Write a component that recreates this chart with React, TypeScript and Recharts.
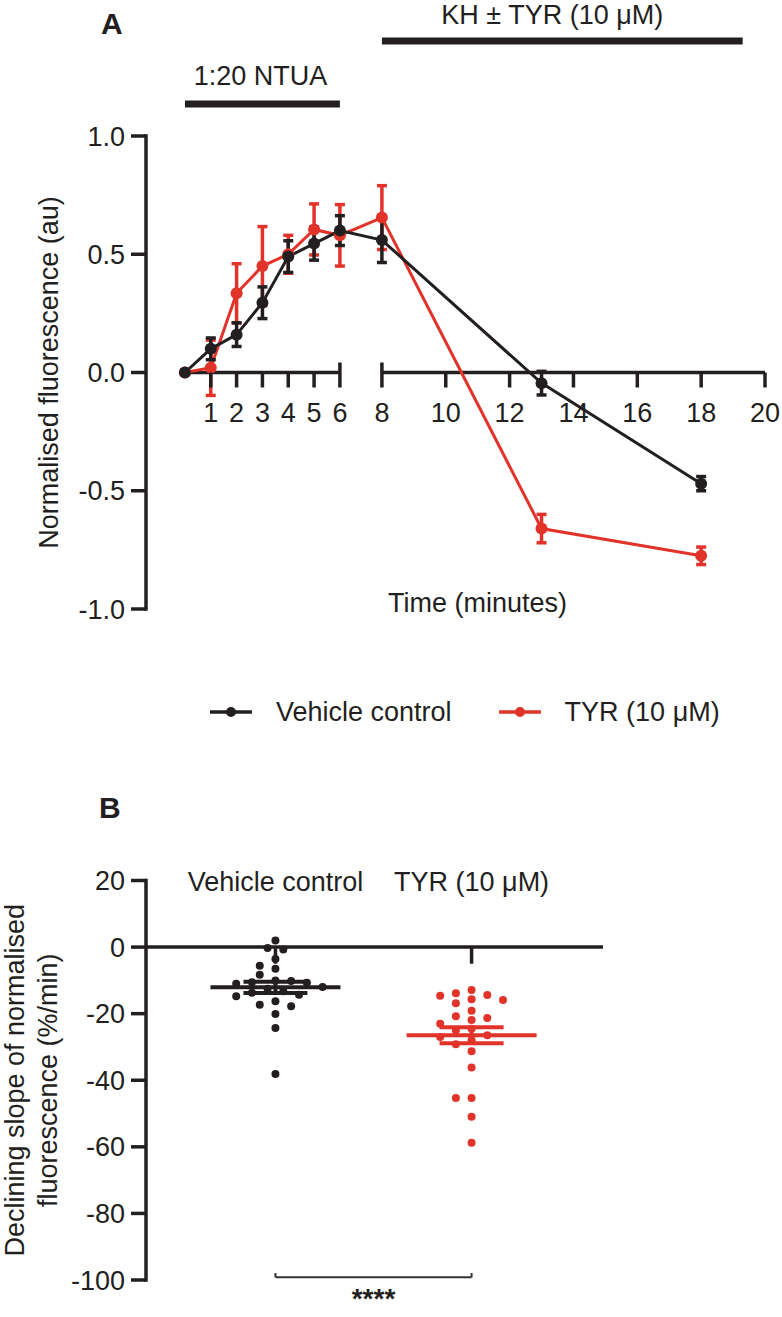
import type { JSX } from "react";

import { ErrorBar, Label, Legend, Line, LineChart, ReferenceLine, Scatter, ScatterChart, XAxis, YAxis } from "recharts";

const ink = "#231f20";
const red = "#e2332a";
const font = '"Liberation Sans", Arial, Helvetica, sans-serif';

// panel A: normalised fluorescence over time
const times = [0, 1, 2, 3, 4, 5, 6, 8, 13, 18];
const vehicleMean = [0, 0.1, 0.16, 0.295, 0.49, 0.545, 0.6, 0.56, -0.045, -0.47];
const vehicleSem = [0, 0.046, 0.05, 0.067, 0.067, 0.07, 0.063, 0.095, 0.05, 0.03];
const tyrMean = [0, 0.02, 0.335, 0.45, 0.5, 0.605, 0.58, 0.655, -0.66, -0.775];
const tyrSem = [0, 0.117, 0.125, 0.167, 0.08, 0.108, 0.13, 0.135, 0.06, 0.037];
const timeTicks = [1, 2, 3, 4, 5, 6, 8, 10, 12, 14, 16, 18, 20];
const fluorTicks = [-1, -0.5, 0, 0.5, 1];
const phaseLabels = ["1:20 NTUA", "KH ± TYR (10 μM)"];
const phaseFrom = [0, 8];
const phaseTo = [6, 19.3];

// panel B: declining slope per cell
const groups = ["Vehicle control", "TYR (10 μM)"];
const vehicleSlopes = [
	2.0, -0.3, -0.7, -3.6, -5.6, -6.5, -8.3, -10.0, -10.2, -10.6, -10.7, -11.0, -12.0, -12.5, -13.3, -13.7, -14.3, -14.8,
	-16.3, -17.3, -17.8, -20.1, -24.3, -38.1,
];
const tyrSlopes = [
	-12.9, -13.9, -14.4, -14.6, -15.7, -15.9, -16.9, -19.1, -20.8, -21.3, -21.9, -23.0, -24.5, -25.0, -26.5, -27.0, -28.0,
	-29.2, -31.3, -36.2, -45.3, -45.3, -51.0, -58.8,
];
const slopeMean = [-12.1, -26.5];
const slopeSem = [1.7, 2.4];
const slopeTicks = [-100, -80, -60, -40, -20, 0, 20];

// broken time axis: 0-6 is drawn narrower, then a gap before 8
const breakFrom = 6;
const breakTo = 8;
const firstSegRatio = 0.809;
const gapWidth = 1.316;
const toAxis = (t: number) => (t <= breakFrom ? t * firstSegRatio : breakFrom * firstSegRatio + gapWidth + (t - breakTo));
const fromAxis = (u: number) =>
	u <= breakFrom * firstSegRatio + 1e-9 ? u / firstSegRatio : u - breakFrom * firstSegRatio - gapWidth + breakTo;
const axisMin = -1.22;
const axisMax = toAxis(20);

// layout of panel A
const chartA = { width: 782, height: 760, top: 136, left: 146, right: 17, plotBottom: 609 };
const zeroY = chartA.top + (chartA.plotBottom - chartA.top) / 2;
const phaseLevel = [1.135, 1.402];
const phaseShift = [-2, -10];
const phaseOffset = [19, 17];

// layout of panel B
const chartB = { width: 782, height: 557, top: 80.5, axisHeight: 40, left: 146, right: 179, bottom: 37 };
const groupDomain: [number, number] = [0.34, 2.67];
const slopeDomain: [number, number] = [-100, 20];
const bracketY = -99.2;

const rowsA = times.map((t, i) => ({
	pos: toAxis(t),
	tyr: tyrMean[i],
	tyrErr: tyrSem[i],
	vehicle: vehicleMean[i],
	vehicleErr: vehicleSem[i],
}));

function swarmOffsets(values: number[], pxY: number, pxX: number): number[] {
	const colStep = 7.85;
	const colGap = 15.7;
	const rowGap = 8.5;
	const order = values.map((_, i) => i).sort((a, b) => values[b] - values[a]);
	const placed: { dx: number; py: number }[] = [];
	const out = values.map(() => 0);
	for (const i of order) {
		const py = values[i] * pxY;
		for (let k = 0; k < 80; k++) {
			const dx = Math.ceil(k / 2) * colStep * (k % 2 ? -1 : 1);
			const free = placed.every((p) => ((p.dx - dx) / colGap) ** 2 + ((p.py - py) / rowGap) ** 2 >= 1);
			if (free) {
				placed.push({ dx, py });
				out[i] = dx / pxX;
				break;
			}
		}
	}
	return out;
}

const plotWB = chartB.width - chartB.left - chartB.right;
const plotHB = chartB.height - chartB.top - chartB.axisHeight - chartB.bottom;
const pxX = plotWB / (groupDomain[1] - groupDomain[0]);
const pxY = plotHB / (slopeDomain[1] - slopeDomain[0]);

const vehicleOff = swarmOffsets(vehicleSlopes, pxY, pxX);
const tyrOff = swarmOffsets(tyrSlopes, pxY, pxX);
const vehiclePts = vehicleSlopes.map((v, i) => ({ x: 1 + vehicleOff[i], y: v }));
const tyrPts = tyrSlopes.map((v, i) => ({ x: 2 + tyrOff[i], y: v }));
const vehicleMeanPt = [{ x: 1, y: slopeMean[0], sem: slopeSem[0] }];
const tyrMeanPt = [{ x: 2, y: slopeMean[1], sem: slopeSem[1] }];

function TimeTick(props: any) {
	const { x, payload } = props;
	const t = Math.round(fromAxis(payload.value));
	const edge = t === breakFrom || t === breakTo;
	return (
		<g>
			<line stroke={ink} strokeWidth={3.5} x1={x} x2={x} y1={edge ? zeroY - 10 : zeroY} y2={zeroY + 15} />
			<text fill={ink} fontSize={27} textAnchor="middle" x={x} y={zeroY + 49}>
				{t}
			</text>
		</g>
	);
}

function GroupTick(props: any) {
	const { x, y, payload } = props;
	return (
		<text fill={ink} fontSize={27} textAnchor="middle" x={x} y={y + 10}>
			{groups[Math.round(payload.value) - 1]}
		</text>
	);
}

function LegendRow(): JSX.Element {
	const item = (label: string, color: string, gap: number) => (
		<div style={{ alignItems: "center", display: "flex", marginRight: gap }}>
			<svg height={14} width={42}>
				<line stroke={color} strokeWidth={3.5} x1={0} x2={42} y1={7} y2={7} />
				<circle cx={21} cy={7} fill={color} r={5} />
			</svg>
			<span style={{ color: ink, fontSize: 27, lineHeight: "28px", marginLeft: 24 }}>{label}</span>
		</div>
	);
	return (
		<div style={{ display: "flex", height: 28 }}>
			{item("Vehicle control", ink, 47)}
			{item("TYR (10 μM)", red, 0)}
		</div>
	);
}

const dotShape = (color: string) => (p: any) => <circle cx={p.cx} cy={p.cy} fill={color} r={4} />;
const meanShape = (color: string) => (p: any) => (
	<line stroke={color} strokeWidth={4} x1={p.cx - 65} x2={p.cx + 65} y1={p.cy} y2={p.cy} />
);

function FluorescenceChart(): JSX.Element {
	return (
		<LineChart
			data={rowsA}
			height={chartA.height}
			margin={{ bottom: 0, left: 0, right: chartA.right, top: chartA.top }}
			width={chartA.width}
		>
			<XAxis
				axisLine={false}
				dataKey="pos"
				domain={[axisMin, axisMax]}
				height={chartA.height - chartA.plotBottom}
				interval={0}
				label={{ dx: 22, dy: -21, fill: ink, fontSize: 27, position: "insideTop", value: "Time (minutes)" }}
				tick={TimeTick}
				tickLine={false}
				tickMargin={0}
				tickSize={0}
				ticks={timeTicks.map(toAxis)}
				type="number"
			/>
			<YAxis
				axisLine={{ stroke: ink, strokeLinecap: "square", strokeWidth: 3.5 }}
				domain={[-1, 1]}
				interval={0}
				label={{ angle: -90, dx: -25, fill: ink, fontSize: 27, position: "center", value: "Normalised fluorescence (au)" }}
				tick={{ fill: ink, fontSize: 27 }}
				tickFormatter={(v: number) => v.toFixed(1)}
				tickLine={{ stroke: ink, strokeWidth: 3.5 }}
				tickMargin={6}
				tickSize={15}
				ticks={fluorTicks}
				type="number"
				width={chartA.left}
			/>
			<ReferenceLine
				ifOverflow="visible"
				segment={[
					{ x: toAxis(0), y: 0 },
					{ x: toAxis(breakFrom), y: 0 },
				]}
				stroke={ink}
				strokeWidth={3.5}
			/>
			<ReferenceLine
				ifOverflow="visible"
				segment={[
					{ x: toAxis(breakTo), y: 0 },
					{ x: axisMax, y: 0 },
				]}
				stroke={ink}
				strokeWidth={3.5}
			/>
			{phaseLabels.map((label, i) => (
				<ReferenceLine
					ifOverflow="visible"
					key={label}
					label={{ dx: phaseShift[i], fill: ink, fontSize: 27, offset: phaseOffset[i], position: "top", value: label }}
					segment={[
						{ x: toAxis(phaseFrom[i]), y: phaseLevel[i] },
						{ x: toAxis(phaseTo[i]), y: phaseLevel[i] },
					]}
					stroke={ink}
					strokeWidth={7}
				/>
			))}
			<Line
				activeDot={false}
				dataKey="tyr"
				dot={{ fill: red, r: 6, stroke: red, strokeWidth: 0 }}
				isAnimationActive={false}
				stroke={red}
				strokeWidth={3}
				type="linear"
			>
				<ErrorBar dataKey="tyrErr" direction="y" isAnimationActive={false} stroke={red} strokeWidth={3.5} width={5} />
			</Line>
			<Line
				activeDot={false}
				dataKey="vehicle"
				dot={{ fill: ink, r: 6, stroke: ink, strokeWidth: 0 }}
				isAnimationActive={false}
				stroke={ink}
				strokeWidth={3}
				type="linear"
			>
				<ErrorBar dataKey="vehicleErr" direction="y" isAnimationActive={false} stroke={ink} strokeWidth={3.5} width={5} />
			</Line>
			<Legend
				align="center"
				content={() => <LegendRow />}
				layout="horizontal"
				verticalAlign="middle"
				wrapperStyle={{ left: 210, top: 698, width: 560 }}
			/>
		</LineChart>
	);
}

function SlopeChart(): JSX.Element {
	return (
		<ScatterChart
			height={chartB.height}
			margin={{ bottom: chartB.bottom, left: 0, right: chartB.right, top: chartB.top }}
			width={chartB.width}
		>
			<XAxis
				axisLine={false}
				dataKey="x"
				domain={groupDomain}
				height={chartB.axisHeight}
				interval={0}
				orientation="top"
				tick={GroupTick}
				tickLine={false}
				tickMargin={0}
				tickSize={0}
				ticks={[1, 2]}
				type="number"
			/>
			<YAxis
				axisLine={{ stroke: ink, strokeLinecap: "square", strokeWidth: 3.5 }}
				dataKey="y"
				domain={slopeDomain}
				interval={0}
				tick={{ fill: ink, fontSize: 27 }}
				tickLine={{ stroke: ink, strokeWidth: 3.5 }}
				tickMargin={6}
				tickSize={15}
				ticks={slopeTicks}
				type="number"
				width={chartB.left}
			>
				<Label angle={-90} dx={-59} fill={ink} fontSize={27} position="center" value="Declining slope of normalised" />
				<Label angle={-90} dx={-26} fill={ink} fontSize={27} position="center" value="fluorescence (%/min)" />
			</YAxis>
			<ReferenceLine stroke={ink} strokeWidth={3.5} y={0} />
			{groups.map((g, i) => (
				<ReferenceLine
					key={g}
					segment={[
						{ x: i + 1, y: 0 },
						{ x: i + 1, y: -5 },
					]}
					stroke={ink}
					strokeWidth={3.5}
				/>
			))}
			<Scatter data={vehiclePts} isAnimationActive={false} shape={dotShape(ink)} />
			<Scatter data={tyrPts} isAnimationActive={false} shape={dotShape(red)} />
			<Scatter data={vehicleMeanPt} isAnimationActive={false} shape={meanShape(ink)}>
				<ErrorBar dataKey="sem" direction="y" isAnimationActive={false} stroke={ink} strokeWidth={4} width={32} />
			</Scatter>
			<Scatter data={tyrMeanPt} isAnimationActive={false} shape={meanShape(red)}>
				<ErrorBar dataKey="sem" direction="y" isAnimationActive={false} stroke={red} strokeWidth={4} width={32} />
			</Scatter>
			<ReferenceLine
				label={{ fill: ink, fontSize: 28, fontWeight: 700, offset: 11, position: "bottom", value: "****" }}
				segment={[
					{ x: 1, y: bracketY },
					{ x: 2, y: bracketY },
				]}
				stroke="#333"
				strokeWidth={2}
			/>
			{[1, 2].map((c) => (
				<ReferenceLine
					key={c}
					segment={[
						{ x: c, y: bracketY },
						{ x: c, y: bracketY + 1.3 },
					]}
					stroke="#333"
					strokeWidth={2}
				/>
			))}
		</ScatterChart>
	);
}

export default function App(): JSX.Element {
	return (
		<div
			style={{ background: "#fff", color: ink, fontFamily: font, height: 1317, left: 0, position: "absolute", top: 0, width: 782 }}
		>
			<svg height={1317} style={{ left: 0, position: "absolute", top: 0 }} width={782}>
				<text fill={ink} fontSize={30} fontWeight={700} x={101} y={34}>
					A
				</text>
				<text fill={ink} fontSize={30} fontWeight={700} x={99} y={818}>
					B
				</text>
			</svg>
			<div style={{ left: 0, position: "absolute", top: 0 }}>
				<FluorescenceChart />
			</div>
			<div style={{ left: 0, position: "absolute", top: 760 }}>
				<SlopeChart />
			</div>
		</div>
	);
}
